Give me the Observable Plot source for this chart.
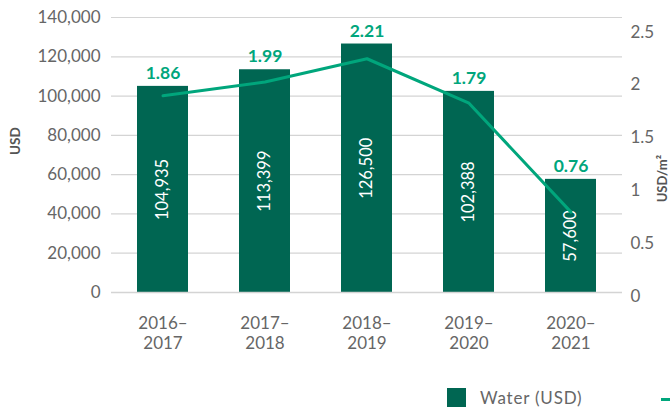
<!DOCTYPE html>
<html>
<head>
<meta charset="utf-8">
<script src="https://cdn.jsdelivr.net/npm/d3@7"></script>
<script src="https://cdn.jsdelivr.net/npm/@observablehq/plot@0.6"></script>
<style>
  html, body { margin: 0; padding: 0; background: #fff; }
  #wrap { position: relative; width: 670px; height: 408px; overflow: hidden; font-family: Lato, "Open Sans", sans-serif; }
  #legend { position: absolute; left: 0; top: 370px; width: 670px; height: 38px; }
  .sw { position: absolute; left: 447px; top: 18px; width: 19px; height: 19px; background: #006652; }
  .lt { position: absolute; left: 480px; top: 18px; font-size: 17px; color: #666; letter-spacing: 0.8px; line-height: 20px; }
  .ln { position: absolute; left: 661px; top: 28px; width: 30px; height: 3px; background: #00a67c; }
</style>
</head>
<body>
<div id="wrap">
  <div id="chart"></div>
  <div id="legend">
    <div class="sw"></div><div class="lt">Water (USD)</div><div class="ln"></div>
  </div>
</div>
<script>
const periods = ["2016–\n2017", "2017–\n2018", "2018–\n2019", "2019–\n2020", "2020–\n2021"];
const waterUSD = [104935, 113399, 126500, 102388, 57600];
const usdPerM2 = [1.86, 1.99, 2.21, 1.79, 0.76];
const leftTicks = [0, 20000, 40000, 60000, 80000, 100000, 120000, 140000];
const rightTicks = [0, 0.5, 1, 1.5, 2, 2.5];

const yMax = 140000;
const rMax = 2.6;
const k = yMax / rMax;

const data = periods.map((p, i) => ({period: p, water: waterUSD[i], ratio: usdPerM2[i], ratioY: usdPerM2[i] * k}));

const green = "#006652";
const lineGreen = "#00a67c";
const gray = "#666";
const tickStyle = "letter-spacing:1px";

const chart = Plot.plot({
  width: 670,
  height: 370,
  marginTop: 17,
  marginBottom: 78,
  marginLeft: 111,
  marginRight: 48,
  style: {fontFamily: "Lato, 'Open Sans', sans-serif", fontSize: "17px", color: gray, background: "#fff"},
  x: {domain: periods, paddingInner: 0.5, paddingOuter: 0.25},
  y: {domain: [0, yMax]},
  marks: [
    Plot.gridY(leftTicks, {stroke: "#d4d4d4", strokeOpacity: 1, strokeWidth: 1.2}),
    Plot.barY(data, {x: "period", y: "water", fill: green}),
    Plot.text(data, {x: "period", y: d => d.water / 2, text: d => d3.format(",")(d.water), rotate: -90, fill: "#fff", fontSize: 16.5, style: "letter-spacing:0.8px"}),
    Plot.line(data, {x: "period", y: "ratioY", stroke: lineGreen, strokeWidth: 3}),
    Plot.text(data, {x: "period", y: "water", dy: -13, text: d => d3.format(".2f")(d.ratio), fill: lineGreen, fontWeight: "bold", fontSize: 17.5}),
    Plot.axisY(leftTicks, {anchor: "left", tickSize: 0, tickPadding: 11, tickFormat: d3.format(","), fill: gray, fontSize: 17, style: tickStyle, label: null}),
    Plot.text(["USD"], {frameAnchor: "left", dx: -96, rotate: -90, fill: "#555", fontSize: 13.5, fontWeight: "bold"}),
    Plot.axisY(rightTicks.map(v => v * k), {anchor: "right", tickSize: 0, tickPadding: 8, dy: 4, tickFormat: d => d3.format("")(+(d / k).toFixed(2)), fill: gray, fontSize: 17, style: tickStyle, label: null}),
    Plot.text(["USD/m²"], {frameAnchor: "right", dx: 40, rotate: -90, fill: "#555", fontSize: 13, fontWeight: "bold"}),
    Plot.axisX({tickSize: 0, tickPadding: 22, fill: gray, fontSize: 17, lineHeight: 1.2, style: tickStyle, label: null}),
    Plot.ruleY([0], {stroke: "#d4d4d4", strokeWidth: 1.5})
  ]
});
document.getElementById("chart").appendChild(chart);
</script>
</body>
</html>
